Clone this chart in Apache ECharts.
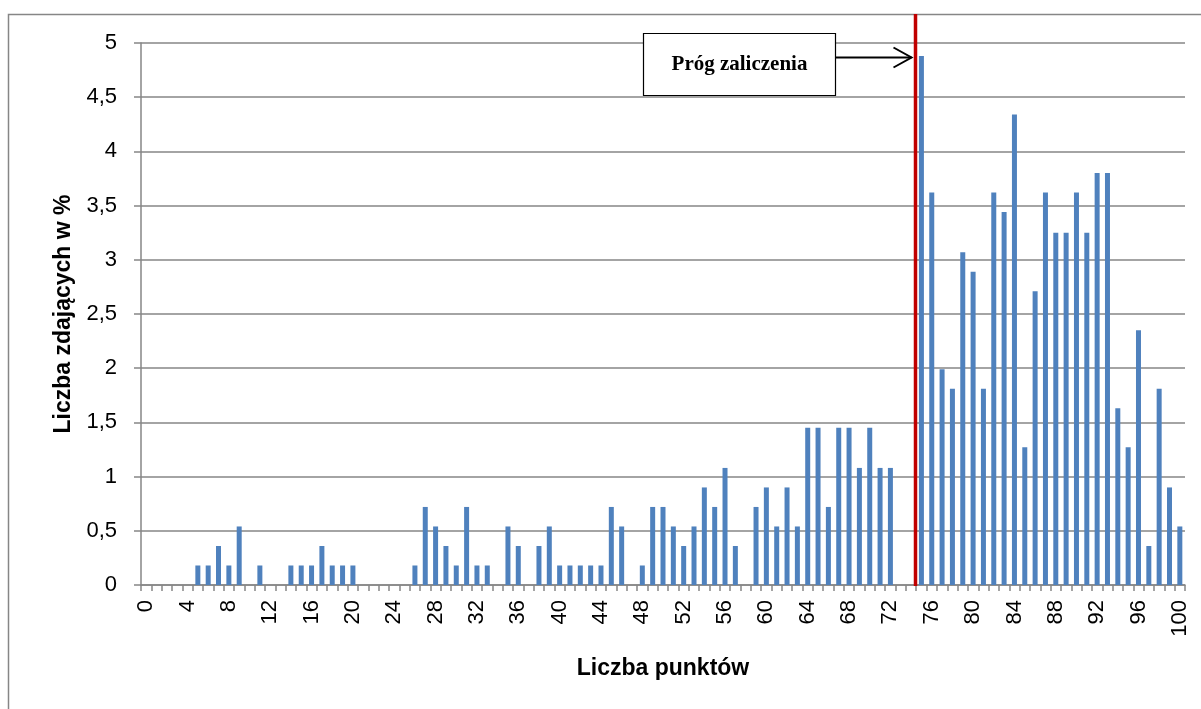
<!DOCTYPE html>
<html>
<head>
<meta charset="utf-8">
<title>Próg zaliczenia</title>
<script src="https://cdn.jsdelivr.net/npm/echarts@6/dist/echarts.min.js"></script>
<style>
    html, body { margin: 0; padding: 0; background: #fff; }
    #chart { width: 1201px; height: 709px; }
</style>
</head>
<body>
<div id="chart"></div>
<script>
// Liczba punktów 0..100
const points = [
    '0', '1', '2', '3', '4', '5', '6', '7', '8', '9',
    '10', '11', '12', '13', '14', '15', '16', '17', '18', '19',
    '20', '21', '22', '23', '24', '25', '26', '27', '28', '29',
    '30', '31', '32', '33', '34', '35', '36', '37', '38', '39',
    '40', '41', '42', '43', '44', '45', '46', '47', '48', '49',
    '50', '51', '52', '53', '54', '55', '56', '57', '58', '59',
    '60', '61', '62', '63', '64', '65', '66', '67', '68', '69',
    '70', '71', '72', '73', '74', '75', '76', '77', '78', '79',
    '80', '81', '82', '83', '84', '85', '86', '87', '88', '89',
    '90', '91', '92', '93', '94', '95', '96', '97', '98', '99',
    '100'
];

// % zdających, punkty 0-49
const shareLow = [
    0, 0, 0, 0, 0, 0.18, 0.18, 0.36, 0.18, 0.54,
    0, 0.18, 0, 0, 0.18, 0.18, 0.18, 0.36, 0.18, 0.18,
    0.18, 0, 0, 0, 0, 0, 0.18, 0.72, 0.54, 0.36,
    0.18, 0.72, 0.18, 0.18, 0, 0.54, 0.36, 0, 0.36, 0.54,
    0.18, 0.18, 0.18, 0.18, 0.18, 0.72, 0.54, 0, 0.18, 0.72
];

// % zdających, punkty 50-100
const shareHigh = [
    0.72, 0.54, 0.36, 0.54, 0.90, 0.72, 1.08, 0.36, 0, 0.72,
    0.90, 0.54, 0.90, 0.54, 1.45, 1.45, 0.72, 1.45, 1.45, 1.08,
    1.45, 1.08, 1.08, 0, 0, 4.88, 3.62, 1.99, 1.81, 3.07,
    2.89, 1.81, 3.62, 3.44, 4.34, 1.27, 2.71, 3.62, 3.25, 3.25,
    3.62, 3.25, 3.80, 3.80, 1.63, 1.27, 2.35, 0.36, 1.81, 0.90,
    0.54
];

const share = shareLow.concat(shareHigh);
const passMark = 75;        // pierwszy wynik zaliczający
const arrowLevel = 4.87;    // wysokość strzałki na osi Y

const gray = '#868686';
const sans = "'Liberation Sans', Arial, sans-serif";

const chart = echarts.init(document.getElementById('chart'));

chart.setOption({
    animation: false,
    backgroundColor: '#fff',
    grid: { left: 141, right: 16, top: 43, bottom: 124 },
    xAxis: {
        type: 'category',
        data: points,
        name: 'Liczba punktów',
        nameLocation: 'middle',
        nameGap: 72,
        nameTextStyle: { fontFamily: sans, fontWeight: 'bold', fontSize: 23, color: '#000' },
        axisLine: { lineStyle: { color: gray, width: 1.5 } },
        axisTick: { show: true, interval: 0, length: 6, lineStyle: { color: gray, width: 1.5 } },
        axisLabel: {
            interval: 3,
            rotate: 90,
            margin: 15,
            fontFamily: sans,
            fontSize: 22,
            color: '#000'
        },
        splitLine: { show: false }
    },
    yAxis: {
        type: 'value',
        min: 0,
        max: 5,
        interval: 0.5,
        name: 'Liczba zdających w %',
        nameLocation: 'middle',
        nameGap: 64,
        nameTextStyle: { fontFamily: sans, fontWeight: 'bold', fontSize: 23, color: '#000' },
        axisLine: { show: true, lineStyle: { color: gray, width: 1.5 } },
        axisTick: { show: true, length: 7, lineStyle: { color: gray, width: 1.5 } },
        axisLabel: {
            margin: 24,
            fontFamily: sans,
            fontSize: 22,
            color: '#000',
            formatter: v => String(v).replace('.', ',')
        },
        splitLine: { lineStyle: { color: gray, width: 1.5 } }
    },
    series: [{
        name: 'Liczba zdających w %',
        type: 'bar',
        data: share,
        barWidth: 5,
        itemStyle: { color: '#4F81BD' }
    }]
});

// linia progu i opis, liczone ze skal wykresu
const xBefore = chart.convertToPixel({ xAxisIndex: 0 }, passMark - 1);
const xAfter = chart.convertToPixel({ xAxisIndex: 0 }, passMark);
const lineX = Math.round((xBefore + xAfter) / 2) - 0.5;
const yZero = chart.convertToPixel({ yAxisIndex: 0 }, 0);
const yArrow = Math.round(chart.convertToPixel({ yAxisIndex: 0 }, arrowLevel)) + 0.5;

chart.setOption({
    graphic: [
        {
            type: 'rect',
            z: 0,
            silent: true,
            shape: { x: 8.5, y: 14.5, width: 1260, height: 800 },
            style: { fill: 'none', stroke: gray, lineWidth: 1.5 }
        },
        {
            type: 'line',
            z: 50,
            silent: true,
            shape: { x1: lineX, y1: 14, x2: lineX, y2: yZero + 1 },
            style: { stroke: '#C00000', lineWidth: 3.5 }
        },
        {
            type: 'rect',
            z: 50,
            silent: true,
            shape: { x: 643.5, y: 33.5, width: 192, height: 62 },
            style: { fill: '#fff', stroke: '#000', lineWidth: 1.2 }
        },
        {
            type: 'text',
            z: 51,
            silent: true,
            x: 739.5,
            y: 65,
            style: {
                text: 'Próg zaliczenia',
                fontFamily: "'Liberation Serif', 'Times New Roman', serif",
                fontWeight: 'bold',
                fontSize: 21,
                fill: '#000',
                align: 'center',
                verticalAlign: 'middle'
            }
        },
        {
            type: 'line',
            z: 50,
            silent: true,
            shape: { x1: 836, y1: yArrow, x2: lineX - 4, y2: yArrow },
            style: { stroke: '#000', lineWidth: 2 }
        },
        {
            type: 'polyline',
            z: 50,
            silent: true,
            shape: { points: [[lineX - 22, yArrow - 10], [lineX - 4, yArrow], [lineX - 22, yArrow + 10]] },
            style: { fill: 'none', stroke: '#000', lineWidth: 2 }
        }
    ]
});
</script>
</body>
</html>
